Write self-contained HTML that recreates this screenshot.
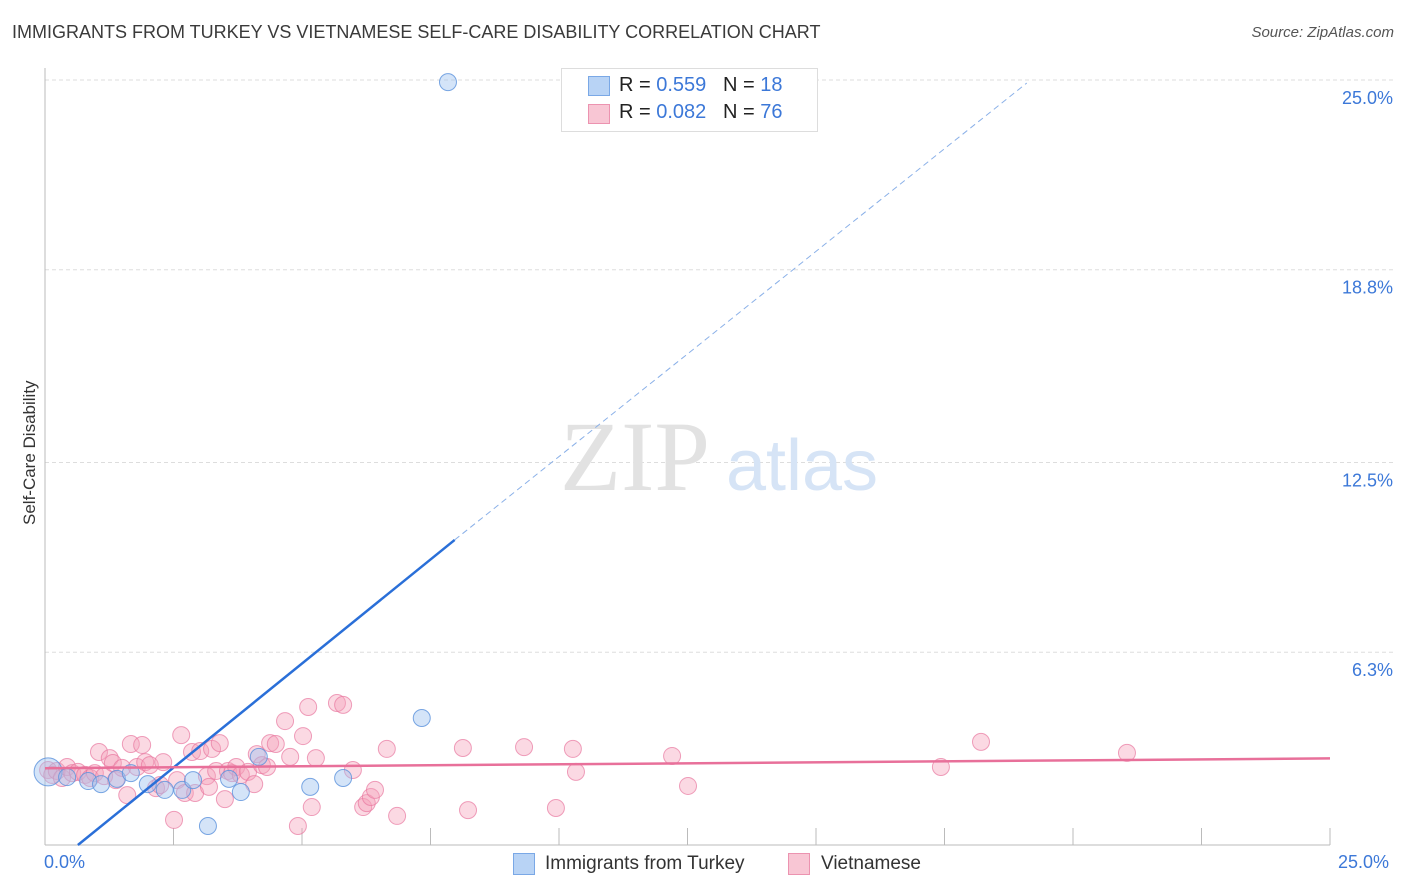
<!DOCTYPE html>
<html><head><meta charset="utf-8"><style>
body{margin:0;background:#fff;font-family:"Liberation Sans",sans-serif;}
#c{position:relative;width:1406px;height:892px;overflow:hidden}
.t{position:absolute;white-space:nowrap}
</style></head><body>
<div id="c">
<div class="t" style="left:12px;top:22px;font-size:18px;color:#3a3a3a">IMMIGRANTS FROM TURKEY VS VIETNAMESE SELF-CARE DISABILITY CORRELATION CHART</div>
<div class="t" style="right:12px;top:24px;font-size:15px;color:#555;font-style:italic">Source: ZipAtlas.com</div>
<div class="t" style="left:-40px;top:445px;transform:rotate(-90deg);font-size:17px;color:#333;width:140px;text-align:center">Self-Care Disability</div>
<svg id="s" width="1406" height="892" style="position:absolute;left:0;top:0"></svg>
<div class="t" style="left:44px;top:852px;font-size:18px;color:#3c78d8">0.0%</div>
<div class="t" style="left:1338px;top:852px;font-size:18px;color:#3c78d8">25.0%</div>
<div style="position:absolute;left:561px;top:68px;width:255px;height:62px;border:1px solid #ddd;background:#fff;font-size:20px;color:#222">
 <div style="position:absolute;left:26px;top:7px;width:20px;height:18px;background:#b8d3f5;border:1px solid #7aa8e6"></div>
 <div class="t" style="left:57px;top:5px">R = <span style="color:#3c78d8">0.559</span>&nbsp;&nbsp;&nbsp;N = <span style="color:#3c78d8">18</span></div>
 <div style="position:absolute;left:26px;top:35px;width:20px;height:18px;background:#f8c6d4;border:1px solid #ec93b0"></div>
 <div class="t" style="left:57px;top:32px">R = <span style="color:#3c78d8">0.082</span>&nbsp;&nbsp;&nbsp;N = <span style="color:#3c78d8">76</span></div>
</div>
<div><div style="position:absolute;left:513px;top:853px;width:20px;height:20px;background:#b8d3f5;border:1px solid #7aa8e6"></div><div class="t" style="left:545px;top:853px;font-size:19px;color:#333">Immigrants from Turkey</div></div>
<div><div style="position:absolute;left:788px;top:853px;width:20px;height:20px;background:#f8c6d4;border:1px solid #ec93b0"></div><div class="t" style="left:821px;top:853px;font-size:19px;color:#333">Vietnamese</div></div>
</div>
<script>
const yTicks=[25.0,18.8,12.5,6.3];
const yTickLabels=["25.0%","18.8%","12.5%","6.3%"];
const xTicks=[2.5,5,7.5,10,12.5,15,17.5,20,22.5,25];
const turkeyX=[0.06,0.43,0.84,1.09,1.40,1.67,2.00,2.33,2.67,2.88,3.17,3.58,3.81,4.16,5.16,5.80,7.33,7.84];
const turkeyY=[2.39,2.22,2.09,1.99,2.16,2.35,1.99,1.80,1.80,2.12,0.62,2.16,1.73,2.88,1.90,2.19,4.15,24.93];
const vietX=[0.06,0.14,0.23,0.33,0.43,0.53,0.64,0.78,0.88,0.97,1.05,1.15,1.26,1.32,1.38,1.50,1.60,1.67,1.79,1.89,1.95,2.04,2.16,2.24,2.30,2.51,2.57,2.65,2.72,2.86,2.92,3.02,3.15,3.19,3.25,3.33,3.40,3.50,3.56,3.64,3.72,3.81,3.95,4.07,4.12,4.22,4.32,4.38,4.49,4.67,4.77,4.92,5.02,5.12,5.19,5.27,5.68,5.80,5.99,6.19,6.26,6.34,6.42,6.65,6.85,8.13,8.23,9.32,9.94,10.27,10.33,12.20,12.51,17.43,18.21,21.05];
const vietY=[2.45,2.29,2.42,2.19,2.55,2.35,2.39,2.29,2.19,2.35,3.04,2.25,2.84,2.68,2.12,2.52,1.63,3.30,2.55,3.27,2.71,2.61,1.86,1.96,2.71,0.82,2.12,3.59,1.70,3.04,1.70,3.07,2.25,1.90,3.14,2.42,3.33,1.50,2.42,2.35,2.55,2.29,2.39,1.99,2.97,2.61,2.55,3.33,3.30,4.05,2.88,0.62,3.56,4.51,1.24,2.84,4.64,4.58,2.45,1.24,1.37,1.57,1.80,3.14,0.95,3.17,1.14,3.20,1.21,3.14,2.39,2.91,1.93,2.55,3.37,3.01];
const turkeyTrend=[[0.64,0],[7.97,9.97],[19.1,24.9]];
const vietTrend=[[0,2.51],[25,2.83]];
const X=v=>45+v*51.4, Y=v=>845-v*30.6;
const s=document.getElementById('s'),NS='http://www.w3.org/2000/svg';
function mk(t,a,name){const e=document.createElementNS(NS,t);for(const k in a)e.setAttribute(k,a[k]);


s.appendChild(e);return e;}
yTicks.forEach((v,i)=>{mk('line',{x1:45,x2:1395,y1:Y(v),y2:Y(v),stroke:'#ddd','stroke-dasharray':'4,3'},'y-gridline');
const t=mk('text',{x:1393,y:Y(v)+24,'text-anchor':'end','font-size':18,fill:'#3c78d8','font-family':'Liberation Sans'},'y-tick-label');t.textContent=yTickLabels[i];});
mk('line',{x1:45,x2:45,y1:68,y2:845,stroke:'#bbb'},'y-axis');
mk('line',{x1:45,x2:1330,y1:845,y2:845,stroke:'#bbb'},'x-axis');
xTicks.forEach(v=>mk('line',{x1:X(v),x2:X(v),y1:828,y2:845,stroke:'#bbb'},'x-tick'));
const w1=mk('text',{x:635,y:490,'text-anchor':'middle','font-size':100,fill:'#e2e2e2','font-family':'Liberation Serif'},'watermark-zip');w1.textContent='ZIP';
const w2=mk('text',{x:802,y:490,'text-anchor':'middle','font-size':72,fill:'#d6e4f6','font-family':'Liberation Sans'},'watermark-atlas');w2.textContent='atlas';
vietX.forEach((v,i)=>mk('circle',{cx:X(v),cy:Y(vietY[i]),r:8.5,fill:'rgba(244,160,185,0.4)',stroke:'rgba(232,120,160,0.7)','stroke-width':1},'vietnamese-point'));
turkeyX.forEach((v,i)=>mk('circle',{cx:X(v),cy:Y(turkeyY[i]),r:i==0?14:8.5,fill:'rgba(160,195,240,0.45)',stroke:'rgba(90,145,220,0.8)','stroke-width':1},'turkey-point'));
mk('line',{x1:X(turkeyTrend[0][0]),y1:Y(turkeyTrend[0][1]),x2:X(turkeyTrend[1][0]),y2:Y(turkeyTrend[1][1]),stroke:'#2a6fd8','stroke-width':2.5},'turkey-trend-line');
mk('line',{x1:X(turkeyTrend[1][0]),y1:Y(turkeyTrend[1][1]),x2:X(turkeyTrend[2][0]),y2:Y(turkeyTrend[2][1]),stroke:'#8ab0e8','stroke-width':1,'stroke-dasharray':'6,4'},'turkey-trend-extension');
mk('line',{x1:X(vietTrend[0][0]),y1:Y(vietTrend[0][1]),x2:X(vietTrend[1][0]),y2:Y(vietTrend[1][1]),stroke:'#e8709a','stroke-width':2.5},'vietnamese-trend-line');
</script>
</body></html>
